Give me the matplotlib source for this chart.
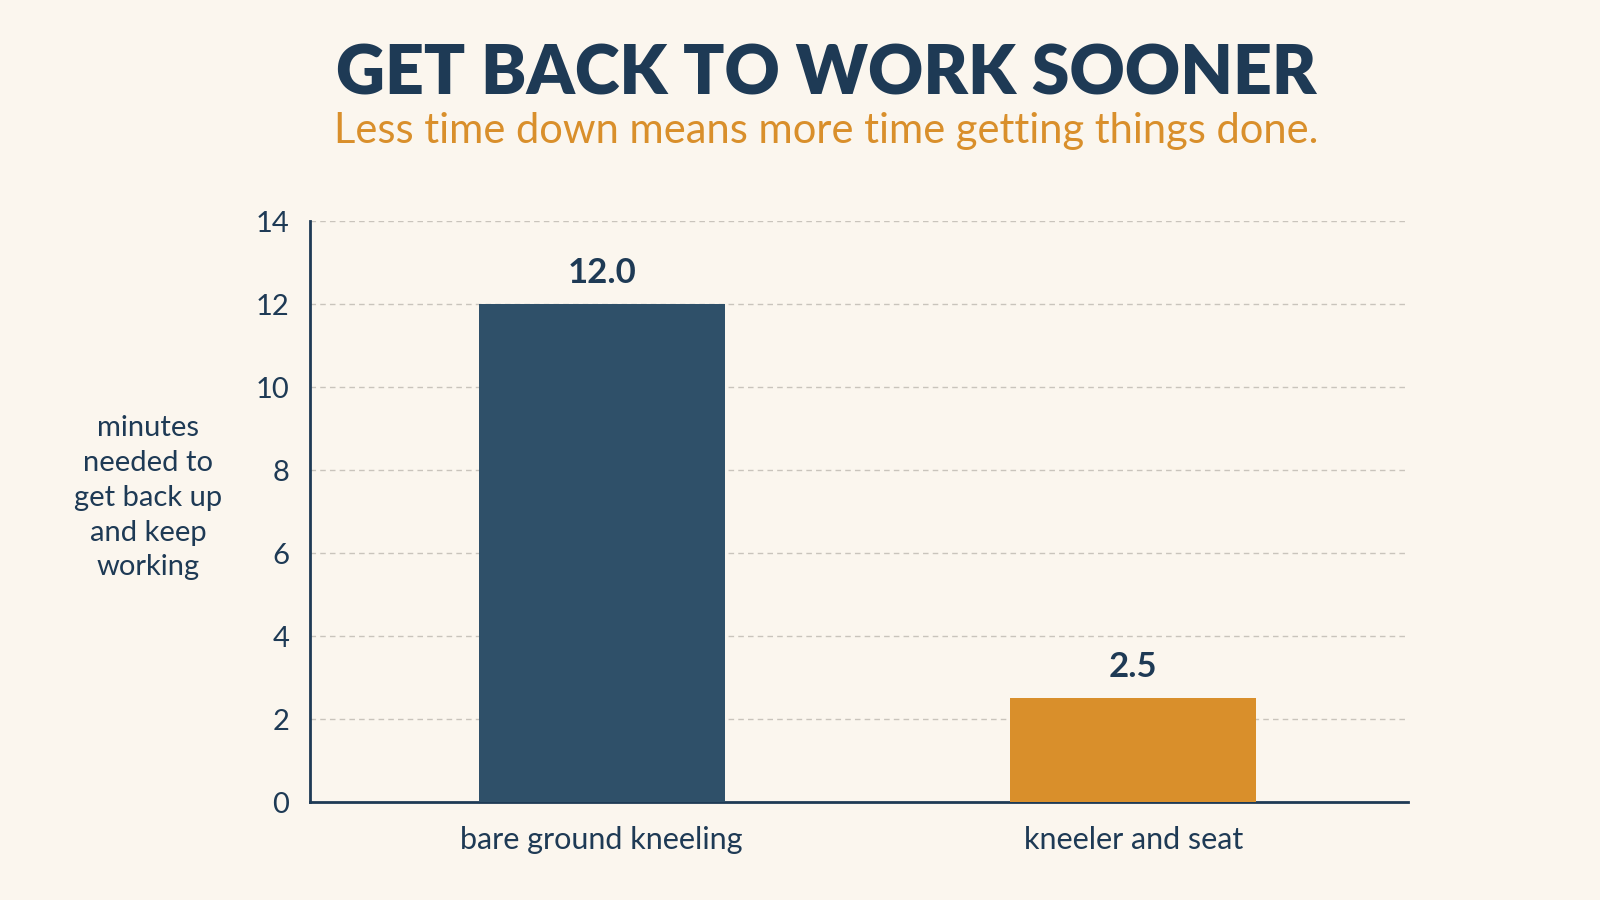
import matplotlib
matplotlib.use("Agg")
import matplotlib.pyplot as plt

categories = ["bare ground kneeling", "kneeler and seat"]
values = [12.0, 2.5]
value_labels = ["12.0", "2.5"]
yticks = [0, 2, 4, 6, 8, 10, 12, 14]

title = "GET BACK TO WORK SOONER"
subtitle = "Less time down means more time getting things done."
ylabel = "minutes\nneeded to\nget back up\nand keep\nworking"

BG = "#FBF6EE"
NAVY = "#1E3A55"
BAR_COLORS = ["#2F5069", "#D98F2B"]
ORANGE = "#D98F2B"
FONT = ["Lato", "DejaVu Sans"]

fig = plt.figure(figsize=(16, 9), dpi=100, facecolor=BG)
bottom = 1 - 786 / 882
top = 1 - 217 / 882
ax = fig.add_axes([0.1939, bottom, 0.8801 - 0.1939, top - bottom])
ax.set_facecolor(BG)

x = range(len(categories))
ax.bar(x, values, width=0.463, color=BAR_COLORS, zorder=3)
for xi, v, lab in zip(x, values, value_labels):
    ax.annotate(lab, (xi, v), xytext=(0, 11), textcoords="offset points",
                ha="center", va="bottom", fontsize=25, fontweight="bold",
                color=NAVY, family=FONT)

ax.set_xlim(-0.548, 1.517)
ax.set_ylim(0, 14)
ax.set_yticks(yticks)
ax.set_yticklabels([str(t) for t in yticks], fontsize=21, color=NAVY, family=FONT)
ax.set_xticks(list(x))
ax.set_xticklabels(categories, fontsize=22, color=NAVY, family=FONT)
ax.tick_params(axis="both", length=0)
ax.tick_params(axis="y", pad=15)
ax.tick_params(axis="x", pad=17)

for t in yticks[1:]:
    ax.axhline(t, color="#C9C4BC", lw=1.0, ls=(0, (4, 3)), zorder=1)

for s in ["top", "right"]:
    ax.spines[s].set_visible(False)
for s in ["left", "bottom"]:
    ax.spines[s].set_color(NAVY)
    ax.spines[s].set_linewidth(2)

fig.text(0.0925, 0.447, ylabel, ha="center", va="center", fontsize=21,
         color=NAVY, family=FONT, linespacing=1.42)

fig.text(0.5166, 0.917, title, ha="center", va="center", fontsize=49,
         fontweight="heavy", color=NAVY, family=FONT)
fig.text(0.5166, 0.854, subtitle, ha="center", va="center", fontsize=30,
         color=ORANGE, family=FONT)

fig.savefig("out.png", dpi=100, facecolor=BG)
